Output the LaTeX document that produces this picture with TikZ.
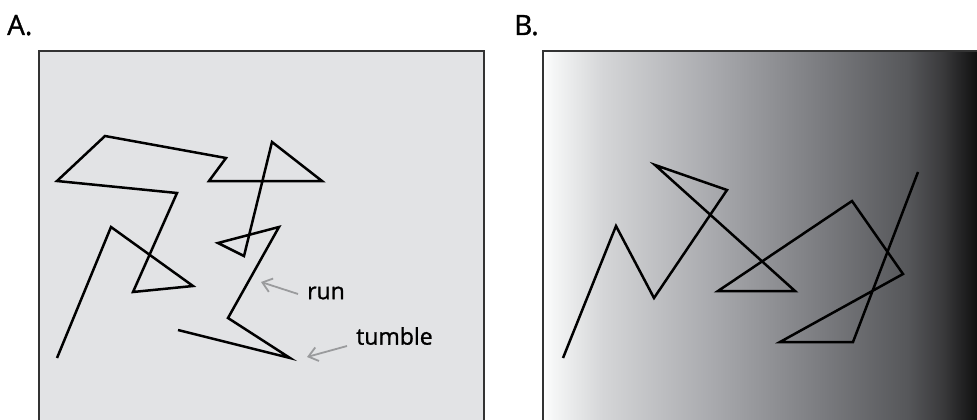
\documentclass[tikz,border=0pt]{standalone}
\usetikzlibrary{arrows.meta}
\usepackage{fontspec}
\setmainfont{Open Sans}[FakeBold=1.2]
\definecolor{panelA}{HTML}{E2E3E5}
\definecolor{gA}{HTML}{F6F7F7}
\definecolor{gB}{HTML}{D4D5D7}
\definecolor{gC}{HTML}{A7A8AC}
\definecolor{gD}{HTML}{7B7C80}
\definecolor{gE}{HTML}{56575A}
\definecolor{gF}{HTML}{3A3A3C}
\definecolor{gG}{HTML}{101010}
\definecolor{arrowgray}{HTML}{9A9B9D}
\pgfdeclarehorizontalshading{bgrad}{100bp}{color(0bp)=(white); color(25bp)=(white); color(26bp)=(gA); color(32bp)=(gB); color(45bp)=(gC); color(57bp)=(gD); color(67bp)=(gE); color(71bp)=(gF); color(75bp)=(gG); color(100bp)=(gG)}
\begin{document}
\begin{tikzpicture}[x=1pt,y=-1pt,
  traj/.style={black,line width=2.5pt,line join=miter,line cap=butt},
  frame/.style={draw=black!80,line width=2pt},
  lab/.style={font=\fontsize{23}{26}\selectfont,inner sep=0pt,anchor=west},
  paneltitle/.style={font=\fontsize{28}{32}\selectfont,inner sep=0pt,anchor=base west},
  pointer/.style={arrowgray,line width=1.8pt,-{Straight Barb[length=9pt,width=14pt]}}]
\useasboundingbox (0,0) rectangle (977,420);
% Panel A
\node[paneltitle] (tA) at (7,35) {A.};
\path[frame,fill=panelA] (39,440) -- (39,51) -- (484,51) -- (484,440);
\draw[traj] (57,358) -- (111,227) -- (193,286) -- (133,292) -- (177,193) -- (57,181) -- (105,136) -- (226,158) -- (209,181) -- (322,181) -- (272,142) -- (244,256) -- (218,243) -- (279,227) -- (228,318) -- (290,358) -- (178,330);
\node[lab] (run) at (307,293) {run};
\node[lab] (tumble) at (356,336) {tumble};
\coordinate (runtip) at (261,282);
\coordinate (tumtip) at (307,357);
\draw[pointer] (298,294) -- (runtip);
\draw[pointer] (347,346) -- (tumtip);
% Panel B
\node[paneltitle] (tB) at (514,35) {B.};
\shade[shading=bgrad] (543,51) rectangle (977,440);
\draw[frame] (543,440) -- (543,51) -- (977,51);
\draw[traj] (563,358) -- (616,226) -- (654,298) -- (727,190) -- (655,165) -- (795,291) -- (718,291) -- (852,201) -- (903,274) -- (780,342) -- (853,342) -- (918,172);
\end{tikzpicture}
\end{document}
